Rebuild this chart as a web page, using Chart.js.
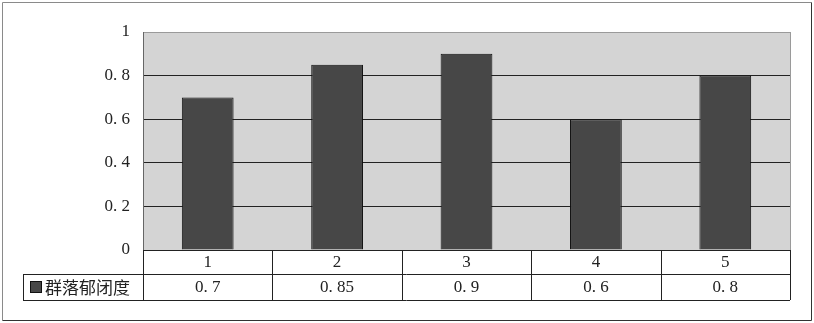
<!DOCTYPE html>
<html lang="zh">
<head>
  <meta charset="UTF-8">
  <script src="https://cdn.jsdelivr.net/npm/chart.js"></script>
  <title>群落郁闭度</title>
  <style>
    body{margin:0; background:#fff;}
    #wrap{width:814px; height:323px;}
  </style>
</head>
<body>
  <div id="wrap"><canvas id="myChart" width="814" height="323"></canvas></div>
  <script>
    // 数据
    const categories = ['1', '2', '3', '4', '5'];
    const seriesName = '群落郁闭度';
    const closure = [0.7, 0.85, 0.9, 0.6, 0.8];
    const yTicks = [0, 0.2, 0.4, 0.6, 0.8, 1];

    const barColor = '#474747';
    const lineColor = '#222';
    const numFont = '17px "Liberation Serif", "DejaVu Serif", serif';
    const cjkFont = '17px "Noto Sans CJK SC", sans-serif';

    function fmt(v){ // 0.8 -> "0. 8"
      return String(v).replace('.', '. ');
    }

    // 外框和绘图区背景
    const bgPlugin = {
      id: 'bg',
      beforeDraw(chart){
        const c = chart.ctx, a = chart.chartArea;
        c.save();
        c.fillStyle = '#fff';
        c.fillRect(0, 0, chart.width, chart.height);
        c.lineWidth = 1;
        c.strokeStyle = '#8a8a8a';
        c.beginPath(); c.moveTo(2.5, 320.5); c.lineTo(2.5, 2.5); c.lineTo(811.5, 2.5); c.stroke();
        c.strokeStyle = '#333';
        c.beginPath(); c.moveTo(811.5, 2.5); c.lineTo(811.5, 320.5); c.lineTo(2.5, 320.5); c.stroke();
        c.fillStyle = '#d4d4d4';
        c.fillRect(a.left, a.top, a.right - a.left, a.bottom - a.top);
        c.restore();
      },
      afterDatasetsDraw(chart){
        const c = chart.ctx, a = chart.chartArea;
        c.save();
        c.strokeStyle = '#9a9a9a';
        c.lineWidth = 1;
        c.beginPath(); c.moveTo(a.right + 0.5, a.top); c.lineTo(a.right + 0.5, a.bottom); c.stroke();
        c.restore();
      }
    };

    // 数据表
    const tablePlugin = {
      id: 'dataTable',
      afterDraw(chart){
        const c = chart.ctx, a = chart.chartArea, x = chart.scales.x;
        const row1 = a.bottom, row2 = a.bottom + 24, row3 = a.bottom + 50;
        const legendLeft = 23;
        const half = (x.getPixelForValue(1) - x.getPixelForValue(0)) / 2;
        c.save();
        c.strokeStyle = lineColor;
        c.lineWidth = 1;
        c.beginPath();
        c.moveTo(a.left, row1 + 0.5); c.lineTo(a.right, row1 + 0.5);
        c.moveTo(legendLeft, row2 + 0.5); c.lineTo(a.right, row2 + 0.5);
        c.moveTo(legendLeft, row3 + 0.5); c.lineTo(a.right, row3 + 0.5);
        c.moveTo(legendLeft + 0.5, row2); c.lineTo(legendLeft + 0.5, row3);
        c.moveTo(Math.round(a.left) + 0.5, row1); c.lineTo(Math.round(a.left) + 0.5, row3);
        categories.forEach((cat, i) => {
          const r = Math.round(x.getPixelForValue(i) + half) + 0.5;
          c.moveTo(r, row1); c.lineTo(r, row3);
        });
        c.stroke();

        c.fillStyle = '#222';
        c.textAlign = 'center';
        c.textBaseline = 'middle';
        c.font = numFont;
        categories.forEach((cat, i) => {
          const cx = x.getPixelForValue(i);
          c.fillText(cat, cx, (row1 + row2) / 2 + 1);
          c.fillText(fmt(closure[i]), cx, (row2 + row3) / 2 + 1);
        });

        // 图例
        c.fillStyle = barColor;
        c.fillRect(30, row2 + 7, 12, 12);
        c.strokeStyle = '#111';
        c.strokeRect(30.5, row2 + 7.5, 11, 11);
        c.fillStyle = '#222';
        c.textAlign = 'left';
        c.font = cjkFont;
        c.fillText(seriesName, 45, (row2 + row3) / 2 + 1);
        c.restore();
      }
    };

    new Chart(document.getElementById('myChart'), {
      type: 'bar',
      data: {
        labels: categories,
        datasets: [{
          label: seriesName,
          data: closure,
          backgroundColor: barColor,
          borderColor: '#111',
          borderWidth: 1,
          barPercentage: 0.4,
          categoryPercentage: 1
        }]
      },
      options: {
        responsive: false,
        animation: false,
        layout: {padding: {left: 0, right: 24, top: 32, bottom: 73}},
        plugins: {legend: {display: false}, tooltip: {enabled: false}},
        scales: {
          x: {display: false},
          y: {
            min: 0, max: 1,
            afterFit(scale){ scale.width = 143; },
            afterBuildTicks(scale){ scale.ticks = yTicks.map(v => ({value: v})); },
            grid: {
              drawTicks: false,
              color: ctx => ctx.tick && ctx.tick.value === 1 ? '#9a9a9a' : lineColor
            },
            border: {color: '#666'},
            ticks: {
              padding: 13,
              color: '#222',
              font: {family: '"Liberation Serif", "DejaVu Serif", serif', size: 17},
              callback: v => fmt(v)
            }
          }
        }
      },
      plugins: [bgPlugin, tablePlugin]
    });
  </script>
</body>
</html>
